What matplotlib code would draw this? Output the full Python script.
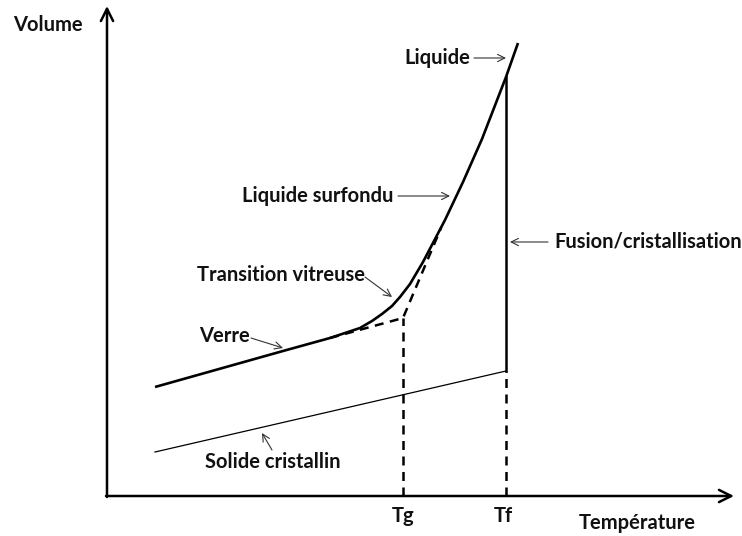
"""Schematic volume / temperature diagram (glass transition)."""

import matplotlib.pyplot as plt

# Axes coordinates: temperature (T) to the right, volume (V) upward, origin at the axes corner
# glass -> supercooled liquid -> liquid (thick curve)
curve_T = [48, 176, 223, 238, 253, 265, 275, 285, 293, 303, 316, 327, 338, 356, 375, 399, 411]
curve_V = [109, 145, 158, 163, 168, 175, 182, 190, 199, 212, 234, 255, 276, 314, 357, 419, 453]

# crystalline solid (thin line)
crystal_T = [48, 399]
crystal_V = [44, 125]

# extrapolated glass line and supercooled liquid line (dashed)
glass_ext_T = [223, 296, 334]
glass_ext_V = [158, 178, 268]

Tg = 296
Tf = 399
V_g = 178      # volume at the dashed corner
V_cryst_f = 125  # crystal volume at Tf
V_liq_f = 419    # liquid volume at Tf

tick_labels = ["Tg", "Tf"]
tick_pos = [Tg, Tf - 3]

# text labels: (text, T, V, arrow start, arrow end)
labels = [
    ("Liquide", 297, 438, (367, 438), (399, 438)),
    ("Liquide surfondu", 135, 300, (291, 300), (343, 300)),
    ("Fusion/cristallisation", 447, 254, (441, 254), (403, 254)),
    ("Transition vitreuse", 90, 221, (258, 219), (285, 199)),
    ("Verre", 92, 160, (144, 158), (176, 148)),
    ("Solide cristallin", 98, 34, (165, 46), (155, 63)),
]

plt.rcParams["font.family"] = ["Lato", "DejaVu Sans"]

fig = plt.figure(figsize=(7.42, 5.36), dpi=100)
ax = fig.add_axes([0, 0, 1, 1])
ax.set_xlim(-107, 635)
ax.set_ylim(-40, 496)
ax.axis("off")

# axes with arrow heads
axis_style = dict(arrowstyle="->", lw=1.8, color="black", mutation_scale=22,
                  shrinkA=0, shrinkB=0)
ax.annotate("", xy=(0, 490), xytext=(0, -1), arrowprops=axis_style)
ax.annotate("", xy=(627, 0), xytext=(-1, 0), arrowprops=axis_style)

ax.plot(curve_T, curve_V, color="black", lw=1.9, solid_capstyle="butt",
        solid_joinstyle="round")
ax.plot(crystal_T, crystal_V, color="black", lw=0.9)
ax.plot([Tf, Tf], [V_cryst_f, V_liq_f], color="black", lw=1.8)

dash = (0, (3.6, 2.6))
ax.plot(glass_ext_T, glass_ext_V, color="black", lw=1.8, ls=dash)
ax.plot([Tg, Tg], [0, V_g], color="black", lw=1.8, ls=dash)
ax.plot([Tf, Tf], [0, V_cryst_f], color="black", lw=1.8, ls=dash)

text_kw = dict(fontsize=14.5, fontweight="bold", color="#111111")
ax.text(-94, 471, "Volume", ha="left", va="center", **text_kw)
ax.text(472, -27, "Température", ha="left", va="center", **text_kw)
for lab, x in zip(tick_labels, tick_pos):
    ax.text(x, -20, lab, ha="center", va="center", **text_kw)

for text, tx, ty, start, end in labels:
    ax.text(tx, ty, text, ha="left", va="center", **text_kw)
    ax.annotate("", xy=end, xytext=start,
                arrowprops=dict(arrowstyle="->", lw=0.8, color="#333333",
                                mutation_scale=13, shrinkA=0, shrinkB=0))

fig.savefig("out.png", dpi=100, facecolor="white")
plt.close(fig)
